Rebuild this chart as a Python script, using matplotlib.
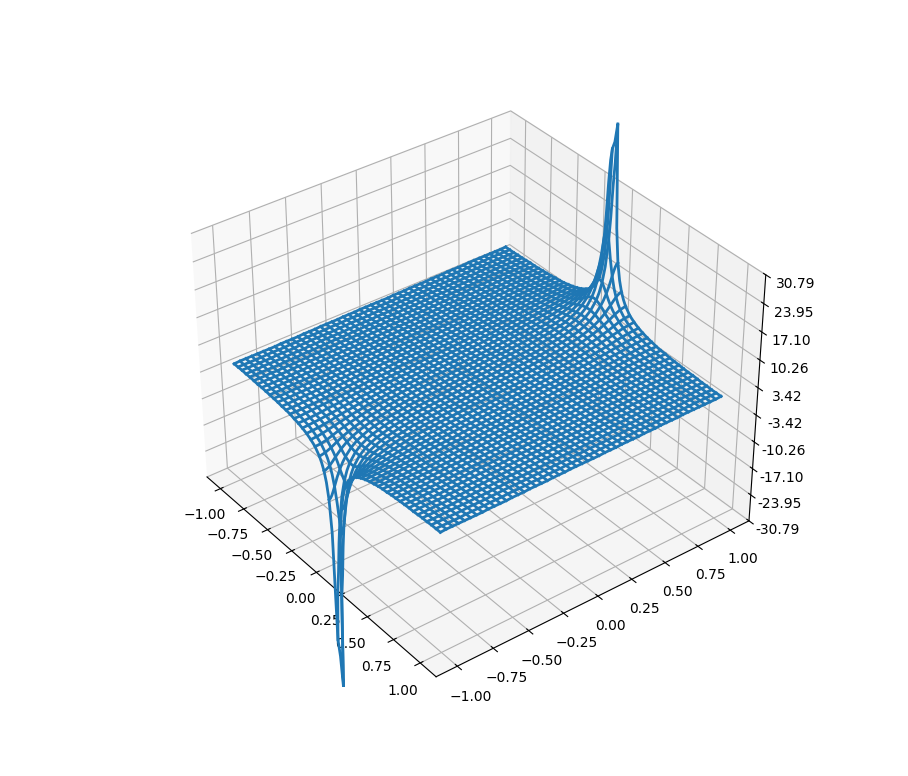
import numpy as np
import matplotlib
matplotlib.use("Agg")
import matplotlib.pyplot as plt
from matplotlib.ticker import LinearLocator, FormatStrFormatter

x_lines = np.linspace(-1, 1, 50)
y_lines = np.linspace(-1, 1, 50)
z_limit = 30.788
line_color = "C0"
line_width = 2.0

# heights, one list per grid row counted from the spike edge (u = 0..24),
# each list runs over the grid columns counted from the spike outwards (25 columns)
z_rows = [
    [48.5, 15.8, 9.3, 6.5, 4.9, 4.0, 3.3, 2.8, 2.4, 2.1, 1.8, 1.6, 1.5, 1.3, 1.2, 1.1, 1.0, 0.9, 0.9, 0.8, 0.7, 0.7, 0.6, 0.6, 0.6],
    [21.4, 13.1, 8.6, 6.2, 4.8, 3.9, 3.2, 2.7, 2.4, 2.1, 1.8, 1.6, 1.5, 1.3, 1.2, 1.1, 1.0, 0.9, 0.8, 0.8, 0.7, 0.7, 0.6, 0.6, 0.5],
    [11.4, 9.3, 7.1, 5.6, 4.5, 3.7, 3.1, 2.6, 2.3, 2.0, 1.8, 1.6, 1.4, 1.3, 1.2, 1.1, 1.0, 0.9, 0.8, 0.8, 0.7, 0.7, 0.6, 0.6, 0.5],
    [7.5, 6.8, 5.7, 4.8, 4.0, 3.4, 2.9, 2.5, 2.2, 1.9, 1.7, 1.5, 1.4, 1.2, 1.1, 1.0, 0.9, 0.9, 0.8, 0.7, 0.7, 0.6, 0.6, 0.6, 0.5],
    [5.5, 5.2, 4.6, 4.1, 3.5, 3.1, 2.7, 2.3, 2.1, 1.8, 1.7, 1.5, 1.3, 1.2, 1.1, 1.0, 0.9, 0.9, 0.8, 0.8, 0.7, 0.6, 0.6, 0.6, 0.5],
    [4.3, 4.1, 3.8, 3.5, 3.1, 2.8, 2.4, 2.2, 1.9, 1.7, 1.6, 1.4, 1.3, 1.2, 1.1, 1.0, 0.9, 0.9, 0.8, 0.7, 0.7, 0.6, 0.6, 0.5, 0.5],
    [3.5, 3.4, 3.2, 3.0, 2.7, 2.5, 2.2, 2.0, 1.8, 1.6, 1.5, 1.4, 1.2, 1.1, 1.0, 1.0, 0.9, 0.8, 0.7, 0.7, 0.6, 0.6, 0.5, 0.5, 0.5],
    [2.9, 2.8, 2.7, 2.6, 2.4, 2.2, 2.0, 1.8, 1.7, 1.5, 1.4, 1.3, 1.2, 1.1, 1.0, 0.9, 0.8, 0.8, 0.7, 0.7, 0.6, 0.6, 0.5, 0.5, 0.5],
    [2.5, 2.4, 2.3, 2.2, 2.1, 2.0, 1.8, 1.7, 1.5, 1.4, 1.3, 1.2, 1.1, 1.0, 0.9, 0.9, 0.8, 0.7, 0.7, 0.6, 0.6, 0.5, 0.5, 0.5, 0.4],
    [2.1, 2.1, 2.0, 1.9, 1.8, 1.7, 1.6, 1.5, 1.4, 1.3, 1.2, 1.1, 1.0, 0.9, 0.9, 0.8, 0.7, 0.7, 0.6, 0.6, 0.5, 0.5, 0.5, 0.4, 0.4],
    [1.8, 1.8, 1.8, 1.7, 1.6, 1.5, 1.4, 1.3, 1.2, 1.2, 1.1, 1.0, 0.9, 0.8, 0.8, 0.7, 0.7, 0.6, 0.6, 0.5, 0.5, 0.5, 0.4, 0.4, 0.4],
    [1.6, 1.6, 1.5, 1.5, 1.4, 1.4, 1.3, 1.2, 1.1, 1.1, 1.0, 0.9, 0.9, 0.8, 0.7, 0.7, 0.6, 0.6, 0.6, 0.5, 0.5, 0.4, 0.4, 0.4, 0.4],
    [1.4, 1.4, 1.3, 1.3, 1.2, 1.2, 1.1, 1.1, 1.0, 0.9, 0.9, 0.8, 0.7, 0.7, 0.6, 0.6, 0.5, 0.5, 0.5, 0.4, 0.4, 0.4, 0.3, 0.3, 0.3],
    [1.2, 1.2, 1.2, 1.1, 1.1, 1.0, 1.0, 0.9, 0.9, 0.8, 0.8, 0.7, 0.7, 0.6, 0.6, 0.6, 0.5, 0.5, 0.4, 0.4, 0.4, 0.3, 0.3, 0.3, 0.3],
    [1.0, 1.0, 1.0, 1.0, 1.0, 0.9, 0.9, 0.8, 0.8, 0.7, 0.7, 0.7, 0.6, 0.6, 0.5, 0.5, 0.5, 0.4, 0.4, 0.4, 0.3, 0.3, 0.3, 0.3, 0.3],
    [0.9, 0.9, 0.9, 0.9, 0.8, 0.8, 0.8, 0.7, 0.7, 0.7, 0.6, 0.6, 0.6, 0.5, 0.5, 0.5, 0.4, 0.4, 0.4, 0.3, 0.3, 0.3, 0.3, 0.3, 0.2],
    [0.8, 0.8, 0.8, 0.7, 0.7, 0.7, 0.7, 0.6, 0.6, 0.6, 0.6, 0.5, 0.5, 0.5, 0.4, 0.4, 0.4, 0.4, 0.3, 0.3, 0.3, 0.3, 0.3, 0.2, 0.2],
    [0.7, 0.7, 0.6, 0.6, 0.6, 0.6, 0.6, 0.5, 0.5, 0.5, 0.5, 0.4, 0.4, 0.4, 0.4, 0.4, 0.3, 0.3, 0.3, 0.3, 0.3, 0.3, 0.2, 0.2, 0.2],
    [0.6, 0.6, 0.6, 0.5, 0.5, 0.5, 0.5, 0.5, 0.5, 0.4, 0.4, 0.4, 0.4, 0.3, 0.3, 0.3, 0.3, 0.2, 0.2, 0.2, 0.2, 0.2, 0.2, 0.2, 0.2],
    [0.5, 0.5, 0.5, 0.4, 0.4, 0.4, 0.4, 0.4, 0.4, 0.3, 0.3, 0.3, 0.3, 0.2, 0.2, 0.2, 0.2, 0.2, 0.2, 0.2, 0.2, 0.2, 0.1, 0.1, 0.1],
    [0.4, 0.4, 0.4, 0.4, 0.3, 0.3, 0.3, 0.3, 0.3, 0.3, 0.2, 0.2, 0.2, 0.2, 0.2, 0.2, 0.2, 0.2, 0.1, 0.1, 0.1, 0.1, 0.1, 0.1, 0.1],
    [0.3, 0.3, 0.3, 0.3, 0.2, 0.2, 0.2, 0.2, 0.2, 0.2, 0.2, 0.2, 0.2, 0.2, 0.1, 0.1, 0.1, 0.1, 0.1, 0.1, 0.1, 0.1, 0.1, 0.1, 0.1],
    [0.2, 0.2, 0.2, 0.2, 0.2, 0.2, 0.2, 0.1, 0.1, 0.1, 0.1, 0.1, 0.1, 0.1, 0.1, 0.1, 0.1, 0.1, 0.1, 0.1, 0.1, 0.1, 0.1, 0.0, 0.0],
    [0.1, 0.1, 0.1, 0.1, 0.1, 0.1, 0.1, 0.1, 0.1, 0.1, 0.1, 0.1, 0.1, 0.1, 0.1, 0.0, 0.0, 0.0, 0.0, 0.0, 0.0, 0.0, 0.0, 0.0, 0.0],
    [0.0, 0.0, 0.0, 0.0, 0.0, 0.0, 0.0, 0.0, 0.0, 0.0, 0.0, 0.0, 0.0, 0.0, 0.0, 0.0, 0.0, 0.0, 0.0, 0.0, 0.0, 0.0, 0.0, 0.0, 0.0],
]

# tips of the two spikes: left column, spike axis, right column
top_tip = [42.0, 44.0, 48.5]
bottom_tip = [52.0, 56.0, 64.0]

# extra samples along the rows next to the spike (offset in grid steps from its axis)
row_extra_offsets = [0, 1, 2, 3]
row_extra = [
    [44.0, 24.0, 11.8, 7.7],
    [24.0, 16.8, 10.4, 7.2],
    [11.7, 10.4, 8.1, 6.3],
    [7.6, 7.2, 6.3, 5.2],
]

# extra samples along the three columns on each side of the spike
col_extra_offsets = [0.25, 0.5, 0.75, 1.5, 2.5]
col_extra = [
    [39.5, 34.1, 26.7, 15.0, 9.1],
    [15.6, 15.0, 14.1, 11.0, 7.9],
    [9.3, 9.1, 8.9, 7.9, 6.4],
]

fig = plt.figure(figsize=(9.08, 7.76), dpi=100)
ax = fig.add_axes([0.127, 0.115, 0.775, 0.77], projection="3d")

step = x_lines[1] - x_lines[0]

# lines of constant y
for j, y in enumerate(y_lines):
    u = 49 - j if j >= 25 else j
    sign = 1 if j >= 25 else -1
    pts = [(k + 0.5, h) for k, h in enumerate(z_rows[u])]
    if u < len(row_extra):
        pts += list(zip(row_extra_offsets, row_extra[u]))
    pts.sort()
    off = [-d for d, h in pts[::-1] if d > 0] + [d for d, h in pts]
    hts = [h for d, h in pts[::-1] if d > 0] + [h for d, h in pts]
    if u == 0:
        tip = top_tip if sign > 0 else bottom_tip
        mid = off.index(0)
        hts[mid - 1:mid + 2] = tip
    ax.plot(np.array(off) * step, np.full(len(off), y), sign * np.array(hts),
            color=line_color, lw=line_width)

# lines of constant x
for i, x in enumerate(x_lines):
    k = i - 25 if i >= 25 else 24 - i
    pts = [(u, z_rows[u][k]) for u in range(25)]
    if k < len(col_extra):
        pts += list(zip(col_extra_offsets, col_extra[k]))
    pts.sort()
    y_top = np.array([y_lines[-1] - u * step for u, h in pts])
    y_bot = np.array([y_lines[0] + u * step for u, h in pts])
    hts_top = np.array([h for u, h in pts])
    hts_bot = hts_top.copy()
    if k == 0:
        hts_top[0] = top_tip[2] if i >= 25 else top_tip[0]
        hts_bot[0] = bottom_tip[2] if i >= 25 else bottom_tip[0]
    ax.plot(np.full(2 * len(pts), x), np.concatenate([y_bot, y_top[::-1]]),
            np.concatenate([-hts_bot, hts_top[::-1]]), color=line_color, lw=line_width)

ax.set_zlim(-z_limit, z_limit)
ax.zaxis.set_major_locator(LinearLocator(10))
ax.zaxis.set_major_formatter(FormatStrFormatter("%.02f"))
ax.view_init(elev=35, azim=-37.4)
ax.set_proj_type("persp", focal_length=0.9)
ax.set_box_aspect(None, zoom=1.035)

fig.savefig("out.png", dpi=100)
